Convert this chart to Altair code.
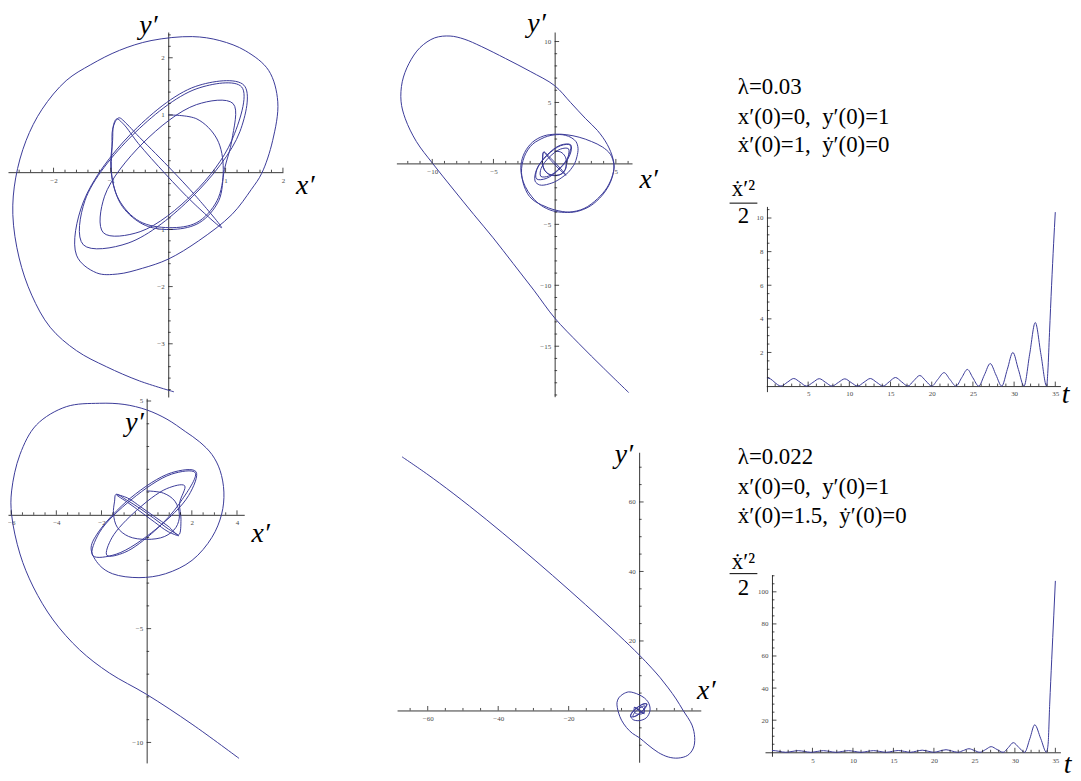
import altair as alt
import numpy as np
import pandas as pd

FONT = "Liberation Serif"
CURVE = "#3a3a98"
AXC = "#202020"
LABC = "#4a4a4a"

# ---------------- orbit data ----------------
# panel 1 : lambda = 0.03, shorter time span
P1_X = [0.00, 0.50, 0.85, 0.96, 0.85, 0.50, 0.02, -0.50, -0.86, -1.00, -0.97, -0.95, -0.86,
        -0.72, -0.55, 0.00, 0.50, 0.93, 0.45, -0.05, -0.52, -0.78, -0.90,
        -0.97, -0.98, -0.98, -0.80, -0.40, 0.10, 0.55, 0.88, 0.98,
        1.11, 1.13, 0.49, -0.44, -1.11, -1.13, -0.49, 0.44, 1.11,
        1.28, 0.50, -0.63, -1.45, -1.48, -0.70, 0.43, 1.25, 1.32, 0.48, -0.66, -1.48,
        -1.60, -1.25, -0.88, -0.45, 0.00, 0.53, 1.11, 1.45, 1.63, 1.82,
        1.91, 1.75, 1.35, 0.90, 0.42, -0.30, -0.85, -1.35, -1.78, -2.20,
        -2.48, -2.66, -2.71, -2.60, -2.38, -2.06, -1.60, -1.08, -0.50, 0.10]
P1_Y = [1.00, 0.93, 0.58, 0.05, -0.50, -0.88, -0.97, -0.86, -0.48, 0.05, 0.55, 0.82, 0.95,
        0.84, 0.66, 0.10, -0.44, -0.97, -0.55, -0.03, 0.50, 0.84, 0.93,
        0.75, 0.45, -0.10, -0.60, -0.93, -1.00, -0.88, -0.50, 0.05,
        0.56, 1.20, 1.18, 0.51, -0.42, -1.06, -1.04, -0.37, 0.56,
        1.49, 1.46, 0.64, -0.49, -1.27, -1.24, -0.42, 0.71, 1.52, 1.50, 0.66, -0.52,
        -1.45, -1.76, -1.78, -1.68, -1.52, -1.20, -0.74, -0.30, -0.02, 0.55,
        1.23, 1.78, 2.12, 2.30, 2.37, 2.30, 2.13, 1.88, 1.60, 1.10,
        0.55, -0.10, -0.74, -1.50, -2.15, -2.71, -3.12, -3.40, -3.65, -3.84]

# panel 2 : same orbit continued
P2_EXT_X = [1.19, 2.40, 3.50, 4.30, 4.75, 4.84, 4.55, 3.90, 3.00, 2.00,
            1.00, 0.11, -0.90, -1.80, -2.45, -2.75, -2.70, -2.40, -1.85, -1.10,
            -0.20, 0.80, 1.80, 2.90, 3.90, 4.55, 4.85, 4.76, 4.30, 3.50,
            2.54, 1.30, 0.00, -2.00, -4.00, -6.00, -7.40, -8.54, -9.80, -11.00,
            -11.90, -12.45, -12.55, -12.20, -11.30, -9.97, -8.30, -6.60, -5.03, -3.40,
            -1.70, 0.00, 2.00, 4.00, 6.05]
P2_EXT_Y = [-3.99, -3.70, -2.90, -1.95, -0.90, -0.10, 0.75, 1.35, 1.80, 2.15,
            2.35, 2.40, 2.25, 1.75, 0.90, -0.10, -1.00, -1.90, -2.75, -3.45,
            -3.88, -4.02, -3.95, -3.50, -2.60, -1.55, -0.40, 0.41, 1.55, 2.70,
            3.66, 5.00, 6.38, 7.55, 8.60, 9.60, 10.20, 10.45, 10.30, 9.50,
            8.20, 6.70, 5.10, 3.66, 1.80, 0.00, -2.10, -4.20, -6.10, -8.20,
            -10.40, -12.68, -14.80, -16.80, -18.80]

# panels 4 and 5 : lambda = 0.022
P4_INNER_X = [0.00, 0.75, 1.25, 1.45, 1.30, 0.80, 0.00, -0.80, -1.30, -1.47, -1.42, -1.36,
              -0.90, -0.30, 0.30, 0.90, 1.42, 0.95, 0.35, -0.25, -0.85, -1.33,
              -0.85, -0.25, 0.35, 0.95, 1.42,
              1.52, 1.46, 1.68, 0.89, -0.44, -1.54, -1.76, -0.97, 0.36, 1.46,
              2.15, 1.11, -0.65, -2.10, -2.39, -1.35, 0.41, 1.86, 2.18, 1.10, -0.70, -2.20]
P4_INNER_Y = [1.05, 0.95, 0.60, 0.00, -0.55, -0.95, -1.08, -0.95, -0.55, 0.05, 0.60, 0.90,
              0.66, 0.28, -0.14, -0.58, -0.92, -0.74, -0.32, 0.12, 0.55, 0.88,
              0.74, 0.34, -0.08, -0.50, -0.88,
              -0.20, 0.51, 1.28, 1.15, 0.20, -1.01, -1.78, -1.65, -0.70, 0.51,
              1.85, 1.79, 0.69, -0.79, -1.79, -1.73, -0.63, 0.85, 1.90, 1.85, 0.75, -0.85]
P4_OUTER_X = [-2.46, -2.10, -1.51, -0.34, 0.83, 2.01, 2.89, 3.32, 3.42, 3.25,
              2.89, 2.35, 1.71, 0.90, 0.00, -1.00, -2.09, -3.56, -4.88, -5.61,
              -5.98, -5.98, -5.61, -5.02, -4.14, -2.97, -1.65, 0.00, 2.01, 4.09]
P4_OUTER_Y = [-1.50, -2.20, -2.59, -2.76, -2.59, -2.00, -0.99, 0.03, 1.00, 1.95,
              2.65, 3.20, 3.66, 4.20, 4.61, 4.85, 4.90, 4.75, 3.95, 2.65,
              1.05, 0.00, -1.72, -3.17, -4.62, -5.93, -6.95, -7.89, -9.20, -10.70]
P5_OUTER_X = [-2.46, -2.10, -1.51, -0.34, 0.83, 2.01, 2.75, 3.10, 3.00, 2.50,
              1.50, 0.00, -1.50, -3.00, -4.60, -5.80, -6.28, -6.20, -5.80, -5.00,
              -3.60, -1.90, 0.00, 2.50, 5.45, 8.30, 11.08, 13.80, 15.40, 15.77,
              15.00, 12.49, 10.50, 8.26, 6.00, 3.57, 0.00, -5.82, -15.20, -24.60,
              -34.00, -43.40, -52.80, -60.30, -67.30]
P5_OUTER_Y = [-1.50, -2.30, -2.75, -2.95, -2.75, -2.15, -1.10, 0.10, 1.30, 2.50,
              3.60, 4.50, 5.10, 5.34, 4.70, 3.60, 2.30, 0.90, -0.80, -2.80,
              -4.90, -6.60, -7.80, -9.90, -12.10, -13.40, -13.70, -12.90, -10.80, -7.81,
              -4.20, 0.00, 3.30, 6.48, 9.40, 12.19, 16.00, 21.70, 30.42, 38.88,
              47.06, 54.96, 62.48, 68.11, 73.00]

# ---------------- kinetic energy time series ----------------
T1 = [0.0, 0.45, 0.85, 1.3, 1.7,
      2.48, 3.25, 4.02, 4.8,
      5.58, 6.35, 7.12, 7.9,
      8.68, 9.45, 10.22, 11.0,
      11.78, 12.55, 13.32, 14.1,
      14.85, 15.6, 16.35, 17.1,
      17.82, 18.55, 19.28, 20.0,
      20.74, 21.5, 22.2, 22.95,
      23.64, 24.33, 25.0, 25.7,
      26.4, 27.1, 27.8, 28.5,
      29.18, 29.85, 30.52, 31.2,
      31.89, 32.57, 33.26, 33.95,
      34.1, 34.3, 34.55, 34.8, 35.0]
V1 = [0.49, 0.42, 0.26, 0.08, 0.0,
      0.23, 0.45, 0.23, 0.0,
      0.22, 0.44, 0.22, 0.0,
      0.22, 0.43, 0.21, 0.0,
      0.23, 0.45, 0.22, 0.0,
      0.26, 0.51, 0.25, 0.0,
      0.32, 0.63, 0.31, 0.0,
      0.40, 0.80, 0.40, 0.0,
      0.50, 0.99, 0.49, 0.0,
      0.67, 1.34, 0.66, 0.0,
      1.00, 2.00, 0.99, 0.0,
      1.90, 3.78, 1.88, 0.0,
      0.9, 3.2, 6.0, 8.5, 10.35]
T2 = [0.0, 0.45, 0.85, 1.3, 1.7,
      2.48, 3.25, 4.02, 4.8,
      5.58, 6.35, 7.12, 7.9,
      8.68, 9.45, 10.22, 11.0,
      11.78, 12.55, 13.32, 14.1,
      14.85, 15.6, 16.35, 17.1,
      17.82, 18.55, 19.28, 20.0,
      20.74, 21.5, 22.2, 22.95,
      23.64, 24.33, 25.0, 25.7,
      26.4, 27.07, 27.8, 28.55,
      29.2, 29.8, 30.5, 31.2,
      31.85, 32.45, 33.2, 33.9,
      34.1, 34.3, 34.55, 34.8, 35.0]
V2 = [1.10, 0.95, 0.60, 0.20, 0.0,
      0.50, 1.00, 0.50, 0.0,
      0.50, 1.00, 0.50, 0.0,
      0.50, 1.00, 0.50, 0.0,
      0.52, 1.02, 0.51, 0.0,
      0.55, 1.10, 0.55, 0.0,
      0.65, 1.30, 0.65, 0.0,
      0.80, 1.60, 0.80, 0.0,
      1.10, 2.20, 1.10, 0.0,
      1.75, 3.50, 1.70, 0.0,
      3.00, 6.00, 2.95, 0.0,
      8.50, 17.1, 8.40, 0.0,
      5.0, 30.0, 58.0, 85.0, 106.8]

NB = "\u00a0"
TOP_LINES = ["λ=0.03", "x′(0)=0," + NB + NB + "y′(0)=1", "ẋ′(0)=1," + NB + NB + "ẏ′(0)=0"]
BOT_LINES = ["λ=0.022", "x′(0)=0," + NB + NB + "y′(0)=1", "ẋ′(0)=1.5," + NB + NB + "ẏ′(0)=0"]
FRAC_NUM = "ẋ′²"
FRAC_DEN = "2"

# whole drawing area (page origin is at 8,8)
WC, HC = 1073, 773
OX, OY = 8, 8


def tick_values(lo, hi, step, skip_step=None):
    out = []
    k0 = int(np.ceil(lo / step - 1e-9))
    k1 = int(np.floor(hi / step + 1e-9))
    for k in range(k0, k1 + 1):
        v = round(k * step, 6)
        if abs(v) < 1e-9:
            continue
        if skip_step is not None:
            r = v / skip_step
            if abs(r - round(r)) < 1e-6:
                continue
        out.append(v)
    return out


def panel_units(xs_list, ys_list, geo, xsteps, ysteps, interp,
                xtitle=None, xt_pos=None, ytitle=None, yt_pos=None):
    L, R = geo["left"] - OX, geo["right"] - OX
    T, B = geo["top"] - OY, geo["bottom"] - OY
    xd, yd = geo["x"], geo["y"]
    x0 = L + (R - L) * (0 - xd[0]) / (xd[1] - xd[0])
    y0 = T + (B - T) * (yd[1] - 0) / (yd[1] - yd[0])
    xs = alt.Scale(domain=xd, range=[L, R], nice=False, zero=False)
    ys = alt.Scale(domain=yd, range=[B, T], nice=False, zero=False)

    xmaj = tick_values(xd[0], xd[1], xsteps[0])
    xmin = tick_values(xd[0], xd[1], xsteps[1], xsteps[0])
    ymaj = tick_values(yd[0], yd[1], ysteps[0])
    ymin = tick_values(yd[0], yd[1], ysteps[1], ysteps[0])

    common = dict(ticks=False, grid=False, domain=True, domainColor=AXC, domainWidth=0.9,
                  labelFont=FONT, labelFontSize=7, labelColor=LABC, labelFlush=False,
                  labelOverlap=False, format="d", titleFont=FONT, titleFontSize=28,
                  titleFontStyle="italic", titleFontWeight="normal", titleColor="black",
                  titleAngle=0, titleAlign="center", titleBaseline="middle")
    xkw = dict(common, orient="bottom", offset=y0 - HC, values=xmaj, labelPadding=4)
    if xtitle:
        xkw.update(title=xtitle, titleX=xt_pos[0] - OX, titleY=xt_pos[1] - OY - y0)
    else:
        xkw.update(title="")
    ykw = dict(common, orient="left", offset=-x0, values=ymaj, labelPadding=4)
    if ytitle:
        ykw.update(title=ytitle, titleX=yt_pos[0] - OX - x0, titleY=yt_pos[1] - OY)
    else:
        ykw.update(title="")

    df = pd.DataFrame({"i": list(range(len(xs_list))), "x": xs_list, "y": ys_list})
    units = [alt.Chart(df).mark_line(color=CURVE, strokeWidth=1, interpolate=interp).encode(
        x=alt.X("x:Q", scale=xs, axis=alt.Axis(**xkw)),
        y=alt.Y("y:Q", scale=ys, axis=alt.Axis(**ykw)),
        order="i:Q",
    )]
    for vals, ln in ((xmaj, 4.5), (xmin, 2.5)):
        units.append(alt.Chart(pd.DataFrame({"v": vals})).mark_rule(
            color=AXC, strokeWidth=0.8, y2Offset=-ln).encode(
            x=alt.X("v:Q", scale=xs, axis=None),
            y=alt.YDatum(0, scale=ys, axis=None),
            y2=alt.Y2Datum(0)))
    for vals, ln in ((ymaj, 4.5), (ymin, 2.5)):
        units.append(alt.Chart(pd.DataFrame({"v": vals})).mark_rule(
            color=AXC, strokeWidth=0.8, x2Offset=ln).encode(
            y=alt.Y("v:Q", scale=ys, axis=None),
            x=alt.XDatum(0, scale=xs, axis=None),
            x2=alt.X2Datum(0)))
    return units


def text_units(lines, line_ys, line_x, frac):
    base = alt.Chart(alt.Data(values=[{"k": 0}]))
    units = []
    for s, yy in zip(lines, line_ys):
        units.append(base.mark_text(text=s, font=FONT, fontSize=23, align="left",
                                    baseline="middle", color="black").encode(
            x=alt.value(line_x - OX), y=alt.value(yy - OY)))
    fx, ny, by, dy = frac
    units.append(base.mark_text(text=FRAC_NUM, font=FONT, fontSize=23, align="center",
                                baseline="middle", color="black").encode(
        x=alt.value(fx - OX), y=alt.value(ny - OY)))
    units.append(base.mark_rule(color="black", strokeWidth=1).encode(
        x=alt.value(fx - 14 - OX), x2=alt.value(fx + 14 - OX), y=alt.value(by - OY)))
    units.append(base.mark_text(text=FRAC_DEN, font=FONT, fontSize=23, align="center",
                                baseline="middle", color="black").encode(
        x=alt.value(fx - OX), y=alt.value(dy - OY)))
    return units


# panel frames in page pixels
G1 = dict(left=8, right=285, top=29.3, bottom=397, x=[-2.794, 2.0], y=[-3.93, 2.45])
G2 = dict(left=399.3, right=636.7, top=29.3, bottom=396.7, x=[-12.93, 6.32], y=[-19.14, 10.78])
G3 = dict(left=772, right=1068.3, top=205, bottom=391.6, x=[-0.08, 35.62], y=[-0.33, 10.69])
G4 = dict(left=8, right=246, top=398.3, bottom=765.7, x=[-6.14, 4.32], y=[-10.9, 5.12])
G5 = dict(left=400, right=706, top=452.7, bottom=765, x=[-68.7, 17.5], y=[-14.9, 74.3])
G6 = dict(left=770.7, right=1068.3, top=576, bottom=759, x=[-0.86, 35.62], y=[-2.5, 110.7])

units = []
units += panel_units(P1_X, P1_Y, G1, (1, 0.2), (1, 0.2), "catmull-rom",
                     "x′", (307, 184), "y′", (149, 23))
units += panel_units(P1_X + P2_EXT_X, P1_Y + P2_EXT_Y, G2, (5, 1), (5, 1), "catmull-rom",
                     "x′", (653, 178), "y′", (540, 21))
units += panel_units(T1, V1, G3, (5, 1), (2, 0.5), "monotone", "t", (1073, 395))
units += panel_units(P4_INNER_X + P4_OUTER_X, P4_INNER_Y + P4_OUTER_Y, G4, (2, 0.5), (5, 1),
                     "catmull-rom", "x′", (262, 535), "y′", (135, 423))
units += panel_units(P4_INNER_X + P5_OUTER_X, P4_INNER_Y + P5_OUTER_Y, G5, (20, 5), (20, 5),
                     "catmull-rom", "x′", (711, 693), "y′", (628, 455))
units += panel_units(T2, V2, G6, (5, 1), (20, 5), "monotone", "t", (1075, 767))
units += text_units(TOP_LINES, [85, 115, 143], 743.3, (749, 188, 201.7, 214.5))
units += text_units(BOT_LINES, [458, 488, 516.7], 743.3, (749, 563, 575, 589.5))

chart = alt.layer(*units).resolve_scale(
    x="independent", y="independent"
).resolve_axis(
    x="independent", y="independent"
).properties(
    width=WC, height=HC, padding=0,
    autosize=alt.AutoSizeParams(type="none"),
).configure_view(stroke=None)

chart.save("out.html", embed_options={"renderer": "svg", "actions": False})
